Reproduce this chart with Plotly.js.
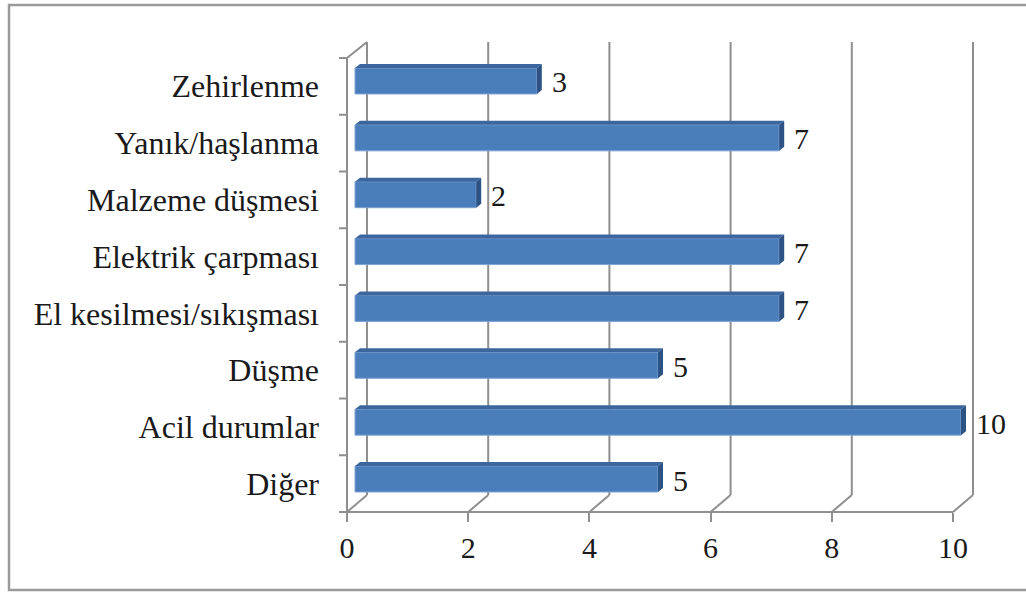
<!DOCTYPE html>
<html>
<head>
<meta charset="utf-8">
<script src="https://cdn.plot.ly/plotly-3.0.1.min.js"></script>
<style>html,body{margin:0;padding:0;background:#fff;}#chart{width:1026px;height:592px;}</style>
</head>
<body>
<div id="chart"></div>
<script>
// ---- data (top to bottom as shown) ----
const categories = ["Zehirlenme", "Yanık/haşlanma", "Malzeme düşmesi", "Elektrik çarpması",
                    "El kesilmesi/sıkışması", "Düşme", "Acil durumlar", "Diğer"];
const counts = [3, 7, 2, 7, 7, 5, 10, 5];
const xTicks = [0, 2, 4, 6, 8, 10];
const xTickLabels = ["0", "2", "4", "6", "8", "10"];

// ---- layout geometry (pixels) ----
const W = 1026, H = 592, ML = 330, MR = 26, MT = 30, MB = 62;
const PW = W - ML - MR, PH = H - MT - MB;
const SX = 60.6;            // px per x unit
const BAR_X0 = 355;         // px of x=0 in the bar plane
const FRONT_X0 = 347;       // px of x=0 in the front plane
const SY = 56.86;           // px per category
const BAR_Y0 = 479;         // px of the lowest category centre (bar plane)
const DEPTH_DX = 20, DEPTH_DY = 17; // back wall offset (px)
const FLOOR_Y = 512, BACK_TOP_Y = 42, FRONT_TOP_Y = 58;
const FACE_DX = 5, FACE_DY = 4;      // bar top/side face depth (px)
const BAR_W = 0.457;
const GRID = "#8f8f8f", BLUE = "#4a7ebb", TOPC = "#3b679e", SIDEC = "#2c5384";
const FONT = "'Liberation Serif', 'Times New Roman', serif";
const FS = 30, FS_Y = 32;

const n = categories.length;
const yIdx = categories.map((c, i) => n - 1 - i);

const xRange = [(ML - BAR_X0) / SX, (ML + PW - BAR_X0) / SX];
const x2Range = [(ML - FRONT_X0) / SX, (ML + PW - FRONT_X0) / SX];
const yRange = [(BAR_Y0 - (MT + PH)) / SY, (BAR_Y0 - MT) / SY];
const py = p => (MT + PH - p) / PH;   // pixel y -> paper y
const pxp = p => (p - ML) / PW;       // pixel x -> paper x

const shapes = [];
const line = (x0, y0, x1, y1, xref, yref, w) => shapes.push({
  type: "line", xref: xref, yref: yref, x0: x0, y0: y0, x1: x1, y1: y1,
  line: {color: GRID, width: w || 2}, layer: "below"
});

// outer frame
shapes.push({type: "rect", xref: "paper", yref: "paper",
  x0: pxp(9), x1: pxp(1040), y0: py(590), y1: py(5),
  line: {color: "#9a9a9a", width: 2.5}, layer: "below"});

// back gridlines + floor diagonals
const ddx = DEPTH_DX / SX;
xTicks.forEach(t => {
  line(t + ddx, py(FLOOR_Y - DEPTH_DY), t + ddx, py(BACK_TOP_Y), "x2", "paper");
  line(t, py(FLOOR_Y), t + ddx, py(FLOOR_Y - DEPTH_DY), "x2", "paper");
});
// front floor edge
line(0, py(FLOOR_Y), 10, py(FLOOR_Y), "x2", "paper");
// left wall front edge + top diagonal
line(0, py(FLOOR_Y), 0, py(FRONT_TOP_Y), "x2", "paper");
line(0, py(FRONT_TOP_Y), ddx, py(BACK_TOP_Y), "x2", "paper");
// left wall category ticks
const stepF = (FLOOR_Y - FRONT_TOP_Y) / n;
for (let k = 0; k <= n; k++) {
  const yy = py(FRONT_TOP_Y + k * stepF);
  line(-8 / SX, yy, 0, yy, "x2", "paper");
}

// bar top and side faces
const fdx = FACE_DX / SX, fdy = FACE_DY / SY;
counts.forEach((v, i) => {
  const y = yIdx[i], yt = y + BAR_W / 2, yb = y - BAR_W / 2;
  shapes.push({type: "path", xref: "x", yref: "y", layer: "above",
    path: `M 0,${yt} L ${v},${yt} L ${v + fdx},${yt + fdy} L ${fdx},${yt + fdy} Z`,
    fillcolor: TOPC, line: {width: 0}});
  shapes.push({type: "path", xref: "x", yref: "y", layer: "above",
    path: `M ${v},${yb} L ${v},${yt} L ${v + fdx},${yt + fdy} L ${v + fdx},${yb + fdy} Z`,
    fillcolor: SIDEC, line: {width: 0}});
});

const annotations = counts.map((v, i) => ({
  x: v, y: yIdx[i], xref: "x", yref: "y", text: String(v), showarrow: false,
  xanchor: "left", yanchor: "middle", xshift: 13, yshift: -1,
  font: {family: FONT, size: FS, color: "#1a1a1a"}
}));

const trace = {
  type: "bar", orientation: "h", x: counts, y: yIdx, width: BAR_W,
  marker: {color: BLUE, line: {color: "#7da2d3", width: 1}},
  hoverinfo: "x+y"
};
const dummy = {type: "scatter", x: [0], y: [0], xaxis: "x2", yaxis: "y",
  mode: "markers", marker: {opacity: 0}, hoverinfo: "skip", showlegend: false};

const layout = {
  width: W, height: H,
  margin: {l: ML, r: MR, t: MT, b: MB, pad: 0},
  paper_bgcolor: "#fff", plot_bgcolor: "rgba(0,0,0,0)",
  showlegend: false,
  font: {family: FONT, size: FS, color: "#1a1a1a"},
  xaxis: {range: xRange, showgrid: false, zeroline: false, showticklabels: false,
          ticks: "", showline: false, fixedrange: true},
  xaxis2: {overlaying: "x", anchor: "free", position: (MT + PH - FLOOR_Y) / PH,
           range: x2Range, tickvals: xTicks, ticktext: xTickLabels,
           ticks: "outside", ticklen: 9, tickwidth: 2, tickcolor: GRID,
           showgrid: false, zeroline: false, showline: false,
           tickfont: {family: FONT, size: FS, color: "#1a1a1a"}},
  yaxis: {range: yRange, tickvals: yIdx, ticktext: categories,
          ticks: "", ticklabelstandoff: 10, ticklabelshift: 5,
          showgrid: false, zeroline: false, showline: false,
          tickfont: {family: FONT, size: FS_Y, color: "#1a1a1a"}},
  shapes: shapes, annotations: annotations
};

Plotly.newPlot("chart", [trace, dummy], layout, {displayModeBar: false, staticPlot: true});
</script>
</body>
</html>
